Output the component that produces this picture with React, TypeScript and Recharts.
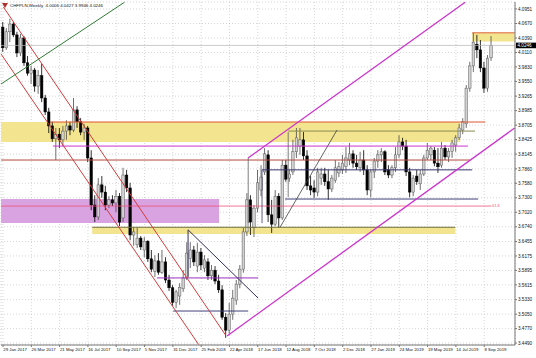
import React from 'react';
import { ComposedChart, XAxis, YAxis, CartesianGrid, Bar, ReferenceLine, ReferenceArea, Label } from 'recharts';

const symbolTitle = 'CHFPLN,Weekly  4.0006 4.0427 3.9946 4.0246';

const opens = [
  4.060, 4.020, 4.051, 4.066, 4.045, 4.010, 4.039, 3.991, 3.971, 3.977,
  3.946, 3.966, 3.923, 3.896, 3.869, 3.844, 3.853, 3.842, 3.859, 3.869,
  3.861, 3.900, 3.877, 3.857, 3.865, 3.807, 3.716, 3.693, 3.755, 3.741,
  3.716, 3.726, 3.720, 3.733, 3.691, 3.774, 3.749, 3.658, 3.639, 3.652,
  3.629, 3.646, 3.612, 3.588, 3.608, 3.586, 3.606, 3.571, 3.556, 3.528,
  3.540, 3.554, 3.575, 3.613, 3.629, 3.598, 3.625, 3.594, 3.606, 3.579,
  3.590, 3.569, 3.552, 3.499, 3.474, 3.505, 3.532, 3.563, 3.592, 3.664,
  3.726, 3.672, 3.710, 3.745, 3.780, 3.813, 3.697, 3.679, 3.733, 3.691,
  3.793, 3.768, 3.780, 3.819, 3.830, 3.842, 3.811, 3.753, 3.749, 3.741,
  3.768, 3.776, 3.761, 3.747, 3.764, 3.778, 3.784, 3.791, 3.803, 3.815,
  3.797, 3.788, 3.803, 3.784, 3.745, 3.780, 3.801, 3.813, 3.819, 3.784,
  3.774, 3.788, 3.813, 3.838, 3.830, 3.780, 3.741, 3.772, 3.757, 3.776,
  3.807, 3.813, 3.822, 3.797, 3.793, 3.826, 3.809, 3.820, 3.832, 3.846,
  3.861, 3.873, 3.942, 3.985, 4.027, 4.016, 3.981, 3.942, 4.0006,
];
const highs = [
  4.070, 4.058, 4.076, 4.070, 4.051, 4.047, 4.043, 4.004, 3.985, 3.981,
  3.977, 3.989, 3.929, 3.904, 3.877, 3.865, 3.865, 3.869, 3.880, 3.877,
  3.923, 3.907, 3.884, 3.873, 3.869, 3.822, 3.735, 3.768, 3.772, 3.753,
  3.733, 3.735, 3.745, 3.739, 3.788, 3.784, 3.759, 3.672, 3.672, 3.656,
  3.654, 3.648, 3.629, 3.619, 3.623, 3.629, 3.615, 3.581, 3.561, 3.552,
  3.565, 3.590, 3.644, 3.644, 3.637, 3.643, 3.633, 3.619, 3.613, 3.600,
  3.598, 3.581, 3.561, 3.507, 3.527, 3.552, 3.571, 3.600, 3.672, 3.739,
  3.735, 3.716, 3.784, 3.793, 3.826, 3.822, 3.726, 3.745, 3.739, 3.803,
  3.803, 3.784, 3.842, 3.865, 3.865, 3.857, 3.822, 3.772, 3.764, 3.788,
  3.788, 3.788, 3.784, 3.774, 3.803, 3.799, 3.813, 3.828, 3.836, 3.822,
  3.813, 3.819, 3.822, 3.793, 3.784, 3.807, 3.822, 3.826, 3.822, 3.793,
  3.793, 3.828, 3.851, 3.846, 3.842, 3.788, 3.774, 3.784, 3.784, 3.813,
  3.836, 3.830, 3.828, 3.826, 3.838, 3.832, 3.826, 3.842, 3.851, 3.873,
  3.884, 3.948, 3.993, 4.049, 4.045, 4.035, 3.993, 4.006, 4.0427,
];
const lows = [
  4.012, 4.016, 4.031, 4.041, 4.002, 4.004, 3.985, 3.966, 3.950, 3.935,
  3.931, 3.915, 3.890, 3.855, 3.838, 3.803, 3.826, 3.830, 3.842, 3.851,
  3.857, 3.865, 3.851, 3.842, 3.799, 3.706, 3.683, 3.687, 3.730, 3.706,
  3.710, 3.714, 3.702, 3.675, 3.683, 3.741, 3.648, 3.637, 3.633, 3.629,
  3.615, 3.606, 3.586, 3.577, 3.581, 3.583, 3.565, 3.550, 3.521, 3.517,
  3.523, 3.548, 3.571, 3.594, 3.598, 3.586, 3.590, 3.586, 3.571, 3.571,
  3.563, 3.546, 3.494, 3.459, 3.467, 3.494, 3.523, 3.555, 3.585, 3.656,
  3.658, 3.654, 3.702, 3.733, 3.774, 3.683, 3.662, 3.675, 3.672, 3.687,
  3.761, 3.761, 3.774, 3.807, 3.813, 3.803, 3.745, 3.735, 3.730, 3.733,
  3.755, 3.753, 3.726, 3.741, 3.759, 3.770, 3.776, 3.778, 3.793, 3.788,
  3.784, 3.780, 3.774, 3.735, 3.731, 3.768, 3.788, 3.799, 3.774, 3.768,
  3.768, 3.780, 3.807, 3.822, 3.772, 3.731, 3.733, 3.755, 3.745, 3.772,
  3.803, 3.803, 3.791, 3.778, 3.788, 3.803, 3.799, 3.807, 3.819, 3.842,
  3.853, 3.865, 3.935, 3.973, 4.000, 3.973, 3.933, 3.935, 3.9946,
];
const closes = [
  4.020, 4.051, 4.066, 4.045, 4.010, 4.039, 3.991, 3.971, 3.977, 3.946,
  3.966, 3.923, 3.896, 3.869, 3.844, 3.853, 3.842, 3.859, 3.869, 3.861,
  3.900, 3.877, 3.857, 3.865, 3.807, 3.716, 3.693, 3.755, 3.741, 3.716,
  3.726, 3.720, 3.733, 3.683, 3.774, 3.749, 3.658, 3.664, 3.652, 3.635,
  3.646, 3.612, 3.592, 3.608, 3.586, 3.606, 3.571, 3.556, 3.528, 3.548,
  3.557, 3.575, 3.623, 3.629, 3.606, 3.625, 3.600, 3.610, 3.579, 3.590,
  3.569, 3.552, 3.499, 3.474, 3.505, 3.536, 3.563, 3.592, 3.664, 3.726,
  3.683, 3.710, 3.759, 3.770, 3.815, 3.697, 3.679, 3.733, 3.691, 3.793,
  3.766, 3.776, 3.819, 3.846, 3.842, 3.811, 3.753, 3.745, 3.741, 3.780,
  3.776, 3.761, 3.747, 3.768, 3.788, 3.790, 3.797, 3.807, 3.815, 3.797,
  3.790, 3.803, 3.784, 3.745, 3.780, 3.801, 3.813, 3.819, 3.780, 3.774,
  3.788, 3.813, 3.838, 3.830, 3.780, 3.741, 3.768, 3.761, 3.776, 3.807,
  3.822, 3.826, 3.797, 3.790, 3.826, 3.809, 3.820, 3.836, 3.846, 3.865,
  3.877, 3.942, 3.985, 4.031, 4.016, 3.981, 3.942, 4.000, 4.0246,
];

const dateTicks = [0, 8, 16, 24, 32, 40, 48, 56, 64, 72, 80, 88, 96, 104, 112, 120, 128, 136];
const dateLabels = [
  '29 Jan 2017', '26 Mar 2017', '21 May 2017', '16 Jul 2017', '10 Sep 2017', '5 Nov 2017',
  '31 Dec 2017', '25 Feb 2018', '22 Apr 2018', '17 Jun 2018', '12 Aug 2018', '7 Oct 2018',
  '2 Dec 2018', '27 Jan 2019', '24 Mar 2019', '19 May 2019', '14 Jul 2019', '8 Sep 2019',
];
const priceTicks = [
  4.0951, 4.0670, 4.0390, 4.0110, 3.9830, 3.9550, 3.9265, 3.8985, 3.8705, 3.8425, 3.8145, 3.7860,
  3.7580, 3.7300, 3.7020, 3.6740, 3.6455, 3.6175, 3.5895, 3.5615, 3.5330, 3.5050, 3.4770, 3.4490,
];
const lastPrice = 4.0246;

const xDomain = [-0.57, 144.7];
const yDomain = [3.4453, 4.1086];

// zones: [x1, x2, yLow, yHigh]
const zoneYellowWide = [-0.55, 129.2, 3.838, 3.8765];
const zoneYellowThin = [25.2, 127.8, 3.660, 3.673];
const zoneMagenta = [-0.55, 61.06, 3.681, 3.7276];
const zoneTopRight = [132.6, 144.6, 4.032, 4.049];

// trend lines: [x1, y1, x2, y2]
const redUpper = [0.1, 4.099, 62.9, 3.4646];
const redLower = [-0.55, 4.008, 55.3, 3.446];
const greenLine = [-0.55, 3.950, 34.3, 4.108];
const magentaUpper = [69.26, 3.807, 130.6, 4.108];
const magentaLower = [63.32, 3.4627, 144.6, 3.865];
const navyDiag = [52.3, 3.668, 72.1, 3.536];
const navyVert = [52.3, 3.577, 52.3, 3.668];
const poleLine = [78.3, 3.673, 94.4, 3.861];
const vert1 = [69.3, 3.807, 69.3, 3.681];
const vert2 = [73.2, 3.784, 73.2, 3.681];
const vert3 = [80.6, 3.857, 80.6, 3.731];

// horizontal levels: [price, xStart, xEnd]
const levelRed = [3.8765, 13.3, 136.3];
const levelOlive = [3.859, 80.6, 133.4];
const levelMagenta = [3.830, 14.1, 131.4];
const levelBrown = [3.803, -0.55, 132.0];
const levelNavyA = [3.784, 73.2, 132.6];
const levelNavyB = [3.7276, 79.7, 134.3];
const levelFib = [3.714, -0.55, 138.0];
const levelOliveDark = [3.673, 25.2, 127.8];
const levelPurple = [3.575, 43.5, 72.1];
const levelNavyC = [3.511, 48.1, 69.3];
const levelBoxTop = [4.049, 132.6, 144.6];

const data = closes.map((c, i) => ({
  i,
  o: opens[i],
  h: highs[i],
  l: lows[i],
  c,
  range: [lows[i], highs[i]],
}));

const FONT = 'Liberation Sans, Arial, sans-serif';

const Candle = (props: any) => {
  const { x, y, width, height } = props;
  const p = props.payload || props;
  if (x == null || y == null || p == null) return null;
  const top = Math.min(y, y + height);
  const hPx = Math.abs(height);
  const span = p.h - p.l || 1;
  const py = (v: number) => top + ((p.h - v) / span) * hPx;
  const cx = x + width / 2;
  const up = p.c >= p.o;
  const bTop = py(Math.max(p.o, p.c));
  const bBot = py(Math.min(p.o, p.c));
  const bw = 2.5;
  return (
    <g>
      <line x1={cx} x2={cx} y1={top} y2={top + hPx} stroke={up ? '#4a4a4a' : '#000'} strokeWidth={0.8} />
      <rect
        x={cx - bw / 2}
        y={bTop}
        width={bw}
        height={Math.max(0.8, bBot - bTop)}
        fill={up ? '#d2d2d2' : '#000'}
        stroke={up ? '#5a5a5a' : '#000'}
        strokeWidth={0.5}
      />
    </g>
  );
};

const DateTick = (props: any) => {
  const { x, y, payload } = props;
  const idx = dateTicks.indexOf(payload.value);
  return (
    <text x={x + 0.3} y={y + 4} fontSize={4.3} fontFamily={FONT} fill="#111">
      {dateLabels[idx]}
    </text>
  );
};

const PriceTick = (props: any) => {
  const { x, y, payload } = props;
  return (
    <text x={x} y={y + 1.7} fontSize={4.6} fontFamily={FONT} fill="#111">
      {Number(payload.value).toFixed(4)}
    </text>
  );
};

const PriceTag = (props: any) => {
  const vb = props.viewBox || {};
  const x = (vb.x || 0) + (vb.width || 0);
  const y = vb.y || 0;
  return (
    <g>
      <rect x={x + 1} y={y - 2.8} width={20} height={5.6} fill="#000" />
      <text x={x + 2.5} y={y + 1.7} fontSize={4.6} fontFamily={FONT} fill="#fff">
        {lastPrice.toFixed(4)}
      </text>
    </g>
  );
};

const FibTag = (props: any) => {
  const vb = props.viewBox || {};
  const x = (vb.x || 0) + (vb.width || 0);
  const y = vb.y || 0;
  return (
    <text x={x + 1} y={y + 0.5} fontSize={3.8} fontFamily={FONT} fill="#f0507a">
      61.8
    </text>
  );
};

const seg = (s: number[], color: string, w = 1) => (
  <ReferenceLine
    key={color + s.join('_')}
    segment={[{ x: s[0], y: s[1] }, { x: s[2], y: s[3] }]}
    stroke={color}
    strokeWidth={w}
  />
);

const lvl = (l: number[], color: string, w = 1) => (
  <ReferenceLine
    key={color + l.join('_')}
    segment={[{ x: l[1], y: l[0] }, { x: l[2], y: l[0] }]}
    stroke={color}
    strokeWidth={w}
  />
);

const zone = (z: number[], fill: string) => (
  <ReferenceArea
    key={fill + z.join('_')}
    x1={z[0]}
    x2={z[1]}
    y1={z[2]}
    y2={z[3]}
    fill={fill}
    fillOpacity={1}
    stroke="none"
  />
);

export default function App() {
  return (
    <div style={{ position: 'absolute', left: 0, top: 0, width: 536, height: 358, background: '#fff' }}>
      <ComposedChart
        width={536}
        height={358}
        data={data}
        margin={{ top: 2, right: 0, bottom: 0, left: 1 }}
      >
        <CartesianGrid stroke="#c4c4c4" strokeDasharray="1 2" strokeWidth={0.7} />
        <XAxis
          type="number"
          dataKey="i"
          domain={xDomain}
          ticks={dateTicks}
          interval={0}
          allowDataOverflow
          height={13}
          tickSize={2}
          tickMargin={0}
          stroke="#777"
          tick={<DateTick />}
        />
        <YAxis
          type="number"
          orientation="right"
          domain={yDomain}
          ticks={priceTicks}
          interval={0}
          allowDataOverflow
          width={21}
          tickSize={2}
          tickMargin={1}
          stroke="#777"
          tick={<PriceTick />}
        />
        {zone(zoneYellowWide, '#f3e590')}
        {zone(zoneYellowThin, '#f3e590')}
        {zone(zoneMagenta, '#d9a2e0')}
        {zone(zoneTopRight, '#f3e590')}
        <ReferenceLine y={lastPrice} stroke="#b4b4b4" strokeWidth={0.7}>
          <Label content={<PriceTag />} />
        </ReferenceLine>
        {lvl(levelBoxTop, '#e0603a')}
        {lvl(levelRed, '#e0542e')}
        {lvl(levelOlive, '#8a8a50')}
        {lvl(levelMagenta, '#cc33cc')}
        {lvl(levelBrown, '#b34a3c')}
        {lvl(levelNavyA, '#34346e')}
        {lvl(levelNavyB, '#40407a')}
        {lvl(levelOliveDark, '#6e6e3c')}
        {lvl(levelPurple, '#9b30c0')}
        {lvl(levelNavyC, '#40407a')}
        <ReferenceLine
          segment={[{ x: levelFib[1], y: levelFib[0] }, { x: levelFib[2], y: levelFib[0] }]}
          stroke="#f0507a"
          strokeWidth={0.8}
        >
          <Label content={<FibTag />} />
        </ReferenceLine>
        {seg(redUpper, '#d23c3c')}
        {seg(redLower, '#d23c3c')}
        {seg(greenLine, '#2e7d32')}
        {seg(magentaUpper, '#cc33cc', 1.3)}
        {seg(magentaLower, '#cc33cc', 1.3)}
        {seg(navyDiag, '#303060')}
        {seg(navyVert, '#303060')}
        {seg(poleLine, '#404040', 0.8)}
        {seg(vert1, '#606060', 0.8)}
        {seg(vert2, '#34346e', 0.8)}
        {seg(vert3, '#606060', 0.8)}
        <Bar dataKey="range" shape={<Candle />} isAnimationActive={false} barSize={3} />
      </ComposedChart>
      <div
        style={{
          position: 'absolute',
          left: 2,
          top: 3,
          display: 'flex',
          alignItems: 'center',
          fontFamily: FONT,
          fontSize: 4.4,
          lineHeight: '5px',
          color: '#111',
          whiteSpace: 'pre',
        }}
      >
        <svg width={6} height={5} style={{ marginRight: 2 }}>
          <polygon points="0,0 6,0 3,5" fill="#b03030" />
        </svg>
        <span>{symbolTitle}</span>
      </div>
    </div>
  );
}
